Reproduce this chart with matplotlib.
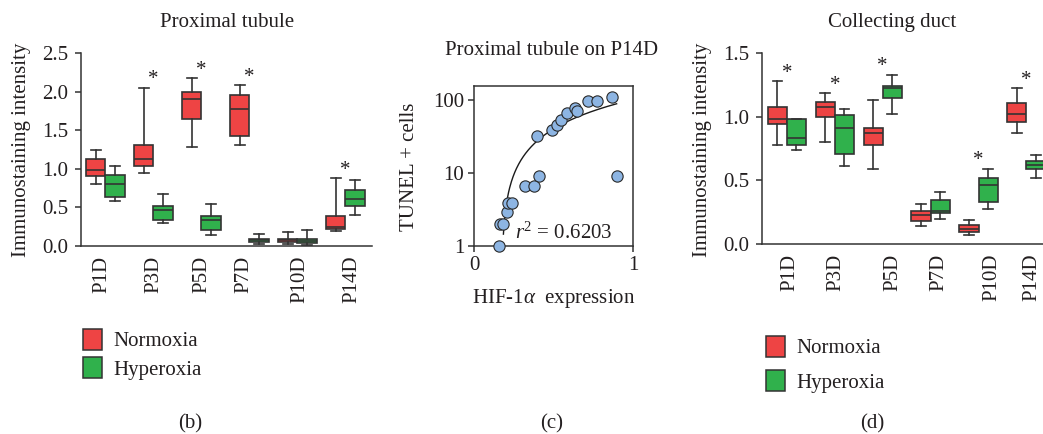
import numpy as np
import matplotlib
matplotlib.use("Agg")
import matplotlib.pyplot as plt
from matplotlib.patches import Patch

plt.rcParams['font.family'] = ['Liberation Serif', 'DejaVu Serif']
plt.rcParams['mathtext.fontset'] = 'custom'
plt.rcParams['mathtext.rm'] = 'Liberation Serif'
plt.rcParams['mathtext.it'] = 'Liberation Serif:italic'
plt.rcParams['font.size'] = 15

# ---------------- data ----------------
categories = ['P1D', 'P3D', 'P5D', 'P7D', 'P10D', 'P14D']
series_names = ['Normoxia', 'Hyperoxia']

# Proximal tubule (b)
pt_norm_whislo = [0.80, 0.95, 1.28, 1.31, 0.026, 0.19]
pt_norm_q1     = [0.91, 1.04, 1.65, 1.43, 0.056, 0.215]
pt_norm_med    = [0.98, 1.13, 1.90, 1.78, 0.073, 0.24]
pt_norm_q3     = [1.13, 1.31, 1.99, 1.95, 0.095, 0.395]
pt_norm_whishi = [1.25, 2.05, 2.17, 2.08, 0.185, 0.88]

pt_hyp_whislo = [0.58, 0.30, 0.146, 0.026, 0.017, 0.40]
pt_hyp_q1     = [0.635, 0.335, 0.21, 0.05, 0.034, 0.52]
pt_hyp_med    = [0.80, 0.46, 0.335, 0.073, 0.064, 0.61]
pt_hyp_q3     = [0.92, 0.515, 0.39, 0.09, 0.09, 0.73]
pt_hyp_whishi = [1.04, 0.67, 0.55, 0.15, 0.21, 0.85]
pt_significant = [False, True, True, True, False, True]

# Collecting duct (d)
cd_norm_whislo = [0.777, 0.798, 0.592, 0.144, 0.071, 0.872]
cd_norm_q1     = [0.945, 1.0, 0.777, 0.183, 0.094, 0.961]
cd_norm_med    = [0.984, 1.076, 0.872, 0.225, 0.115, 1.021]
cd_norm_q3     = [1.073, 1.113, 0.908, 0.259, 0.147, 1.11]
cd_norm_whishi = [1.28, 1.183, 1.134, 0.314, 0.186, 1.222]

cd_hyp_whislo = [0.74, 0.613, 1.02, 0.20, 0.277, 0.518]
cd_hyp_q1     = [0.777, 0.704, 1.147, 0.241, 0.33, 0.589]
cd_hyp_med    = [0.835, 0.911, 1.225, 0.259, 0.46, 0.617]
cd_hyp_q3     = [0.984, 1.016, 1.243, 0.348, 0.515, 0.649]
cd_hyp_whishi = [0.984, 1.058, 1.33, 0.406, 0.59, 0.70]
cd_significant = [True, True, True, False, True, True]

box_yticks_pt = [0.0, 0.5, 1.0, 1.5, 2.0, 2.5]
box_yticks_cd = [0.0, 0.5, 1.0, 1.5]

# Proximal tubule on P14D (c)
hif_expression = [0.158, 0.163, 0.184, 0.207, 0.215, 0.242, 0.319, 0.380, 0.411,
                  0.394, 0.489, 0.523, 0.549, 0.582, 0.637, 0.648, 0.717, 0.776,
                  0.865, 0.899]
tunel_cells = [1.0, 2.03, 2.03, 2.9, 3.93, 3.93, 6.72, 6.72, 9.1,
               31.8, 39.3, 46.0, 52.7, 67.2, 76.9, 70.0, 96.8, 96.8,
               110.0, 9.1]
fit_slope = 123.0
fit_intercept = -21.3
fit_x_range = (0.185, 0.897)
r_squared = 0.6203
scatter_yticks = [1, 10, 100]
scatter_xticks = [0, 1]

# ---------------- style ----------------
TXT = '#231f20'
EDGE = '#333333'
RED = '#ee4444'
GREEN = '#30b14c'
BLUE = '#8db5e3'

W, H = 1043, 434
fig = plt.figure(figsize=(W / 100, H / 100), dpi=100)


def fx(px):
    return px / W


def fy(py):
    return 1 - py / H


def stats_list(lo, q1, med, q3, hi):
    return [dict(whislo=a, q1=b, med=c, q3=d, whishi=e, fliers=[])
            for a, b, c, d, e in zip(lo, q1, med, q3, hi)]


def box_panel(ax, norm, hyp, sig, yticks, label_shift):
    pos = np.arange(len(categories))
    for stats, col, off in ((norm, RED, -0.2), (hyp, GREEN, 0.2)):
        ax.bxp(stats, positions=pos + off, widths=0.4, patch_artist=True,
               showfliers=False, capwidths=0.2,
               boxprops=dict(facecolor=col, edgecolor=EDGE, linewidth=1.2),
               medianprops=dict(color=EDGE, linewidth=1.2),
               whiskerprops=dict(color=EDGE, linewidth=1.2),
               capprops=dict(color=EDGE, linewidth=1.2))
    for i, s in enumerate(sig):
        if s:
            top = max(norm[i]['whishi'], hyp[i]['whishi'])
            ax.annotate('*', xy=(i, top), xytext=(0, 2.5), textcoords='offset points',
                        ha='center', va='baseline', fontsize=15, color=TXT)
    ax.set_xticks(pos + np.array(label_shift))
    ax.set_xticklabels(categories, rotation=90)
    ax.set_yticks(yticks)
    ax.set_yticklabels([f'{v:.1f}' for v in yticks])
    ax.set_ylim(yticks[0], yticks[-1])
    for s in ('top', 'right'):
        ax.spines[s].set_visible(False)
    for s in ('left', 'bottom'):
        ax.spines[s].set_color(EDGE)
        ax.spines[s].set_linewidth(1.1)
    ax.tick_params(axis='x', length=0, pad=7, labelsize=15, colors=TXT)
    ax.tick_params(axis='y', length=4, width=1.1, direction='out', pad=5,
                   labelsize=15, colors=TXT)
    ax.tick_params(axis='y', color=EDGE)
    ax.set_facecolor('none')


# ---- panel (b)
gp = 48.0
axb = fig.add_axes([fx(81), fy(246), 291 / W, 193 / H])
box_panel(axb,
          stats_list(pt_norm_whislo, pt_norm_q1, pt_norm_med, pt_norm_q3, pt_norm_whishi),
          stats_list(pt_hyp_whislo, pt_hyp_q1, pt_hyp_med, pt_hyp_q3, pt_hyp_whishi),
          pt_significant, box_yticks_pt,
          [-0.07, 0.0, 0.01, -0.11, 0.05, 0.13])
axb.set_xlim(-0.51, -0.51 + 291 / gp)

# ---- panel (d)
axd = fig.add_axes([fx(762), fy(244), 300 / W, 191 / H])
box_panel(axd,
          stats_list(cd_norm_whislo, cd_norm_q1, cd_norm_med, cd_norm_q3, cd_norm_whishi),
          stats_list(cd_hyp_whislo, cd_hyp_q1, cd_hyp_med, cd_hyp_q3, cd_hyp_whishi),
          cd_significant, box_yticks_cd,
          [0.06, 0.02, 0.21, 0.18, 0.28, 0.11])
axd.set_xlim(-0.52, -0.52 + 300 / 47.9)

# ---- panel (c)
axc = fig.add_axes([fx(474), fy(246), 159 / W, 160 / H])
fx_line = np.linspace(fit_x_range[0], fit_x_range[1], 200)
axc.plot(fx_line, fit_intercept + fit_slope * fx_line, color='#1a1a1a', lw=1.0, zorder=2)
axc.scatter(hif_expression, tunel_cells, s=66, c=BLUE, edgecolors='#2a2a2a',
            linewidths=0.8, zorder=3, clip_on=False)
axc.set_yscale('log')
axc.set_ylim(1, 156)
axc.set_xlim(0, 1)
axc.yaxis.set_minor_locator(matplotlib.ticker.NullLocator())
axc.set_yticks(scatter_yticks)
axc.set_yticklabels([str(v) for v in scatter_yticks])
axc.set_xticks(scatter_xticks)
axc.set_xticklabels([str(v) for v in scatter_xticks])
for s in axc.spines.values():
    s.set_color(EDGE)
    s.set_linewidth(1.1)
axc.tick_params(length=4, width=1.1, direction='out', pad=3, labelsize=15,
                colors=TXT)
axc.tick_params(color=EDGE)
axc.text(0.26, 1.25, '$r^2$ = %.4f' % r_squared, ha='left', va='baseline',
         fontsize=15, color=TXT, zorder=4)

# ---- titles and labels
fig.text(fx(227), fy(27), 'Proximal tubule', ha='center', va='baseline',
         fontsize=15, color=TXT)
fig.text(fx(552), fy(55), 'Proximal tubule on P14D', ha='center', va='baseline',
         fontsize=15, color=TXT)
fig.text(fx(892), fy(27), 'Collecting duct', ha='center', va='baseline',
         fontsize=15, color=TXT)
fig.text(fx(22), fy(150), 'Immunostaining intensity', rotation=90, ha='center',
         va='center', fontsize=15, color=TXT)
fig.text(fx(702), fy(150), 'Immunostaining intensity', rotation=90, ha='center',
         va='center', fontsize=15, color=TXT)
fig.text(fx(410), fy(167), 'TUNEL + cells', rotation=90, ha='center',
         va='center', fontsize=15, color=TXT)
fig.text(fx(554), fy(303), r'HIF-1$\alpha$  expression', ha='center', va='baseline',
         fontsize=15, color=TXT)

for px, lab in ((190, '(b)'), (552, '(c)'), (872, '(d)')):
    fig.text(fx(px), fy(424), lab, ha='center', va='center', fontsize=15, color=TXT)

# ---- legends
handles = [Patch(facecolor=RED, edgecolor=EDGE, linewidth=1.1),
           Patch(facecolor=GREEN, edgecolor=EDGE, linewidth=1.1)]
fs_px = 15 * 100 / 72
fig.legend(handles, series_names, loc='upper left', bbox_to_anchor=(fx(83), fy(329)),
           frameon=False, borderpad=0, borderaxespad=0, fontsize=15,
           handlelength=19 / fs_px, handleheight=24 / fs_px,
           handletextpad=0.53, labelspacing=0.29, labelcolor=TXT)
fig.legend(handles, series_names, loc='upper left', bbox_to_anchor=(fx(766), fy(336)),
           frameon=False, borderpad=0, borderaxespad=0, fontsize=15,
           handlelength=19 / fs_px, handleheight=24 / fs_px,
           handletextpad=0.53, labelspacing=0.58, labelcolor=TXT)

fig.savefig('out.png', dpi=100)
